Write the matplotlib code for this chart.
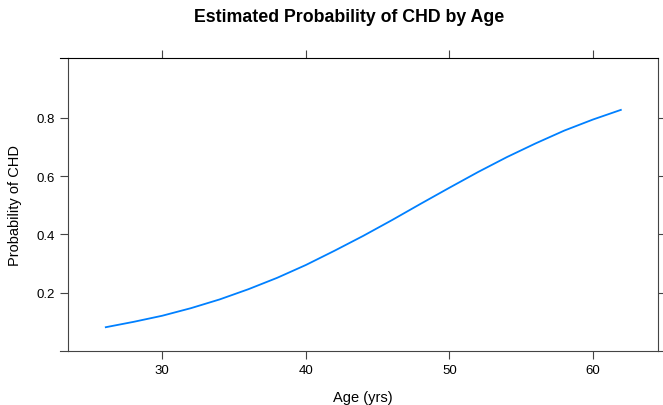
import matplotlib
matplotlib.use("Agg")
import matplotlib.pyplot as plt
from matplotlib.lines import Line2D

plt.rcParams['font.family'] = ['Liberation Sans', 'DejaVu Sans']

# Fitted probability of CHD against age
age = [26, 28, 30, 32, 34, 36, 38, 40, 42, 44, 46, 48, 50, 52, 54, 56, 58, 60, 62]
prob = [0.081, 0.100, 0.121, 0.147, 0.177, 0.212, 0.251, 0.295, 0.344, 0.395,
        0.449, 0.505, 0.560, 0.614, 0.665, 0.712, 0.756, 0.794, 0.828]
x_ticks = [30, 40, 50, 60]
y_ticks = [0.2, 0.4, 0.6, 0.8]

W, H = 663, 406
fig = plt.figure(figsize=(W / 100, H / 100), dpi=100)
L, R, T, B = 68, 658, 59, 352
ax = fig.add_axes([L / W, 1 - B / H, (R - L) / W, (B - T) / H])

ax.plot(age, prob, color='#0080ff', lw=1.3, solid_capstyle='butt')
ax.set_xlim(23.43, 64.53)
ax.set_ylim(0.0, 1.005)

ax.set_xticks(x_ticks)
ax.set_yticks(y_ticks)
ax.set_yticklabels([f"{v:.1f}" for v in y_ticks])
ax.tick_params(direction='out', length=5.5, width=0.8, color='#444444',
               labelsize=9.5, top=True, right=True, labeltop=False, labelright=False)
ax.tick_params(axis='y', pad=4)
ax.tick_params(axis='x', pad=4)

for s in ax.spines.values():
    s.set_color('#444444')
    s.set_linewidth(0.8)
ax.spines['top'].set_color('#000000')

# top and bottom frame lines run slightly past the left edge
fig.add_artist(Line2D([60 / W, L / W], [1 - T / H, 1 - T / H], color='#000000', lw=0.8))
fig.add_artist(Line2D([60 / W, L / W], [1 - B / H, 1 - B / H], color='#444444', lw=0.8))
fig.add_artist(Line2D([R / W, 663 / W], [1 - B / H, 1 - B / H], color='#444444', lw=0.8))

fig.text(349 / W, 1 - 17 / H, "Estimated Probability of CHD by Age",
         ha='center', va='center', fontsize=12.8, fontweight='bold')
fig.text(363 / W, 1 - 398 / H, "Age (yrs)", ha='center', va='center', fontsize=10.5)
fig.text(15 / W, 1 - 206 / H, "Probability of CHD", ha='center', va='center',
         fontsize=10.5, rotation=90)

fig.savefig("out.png", dpi=100)
